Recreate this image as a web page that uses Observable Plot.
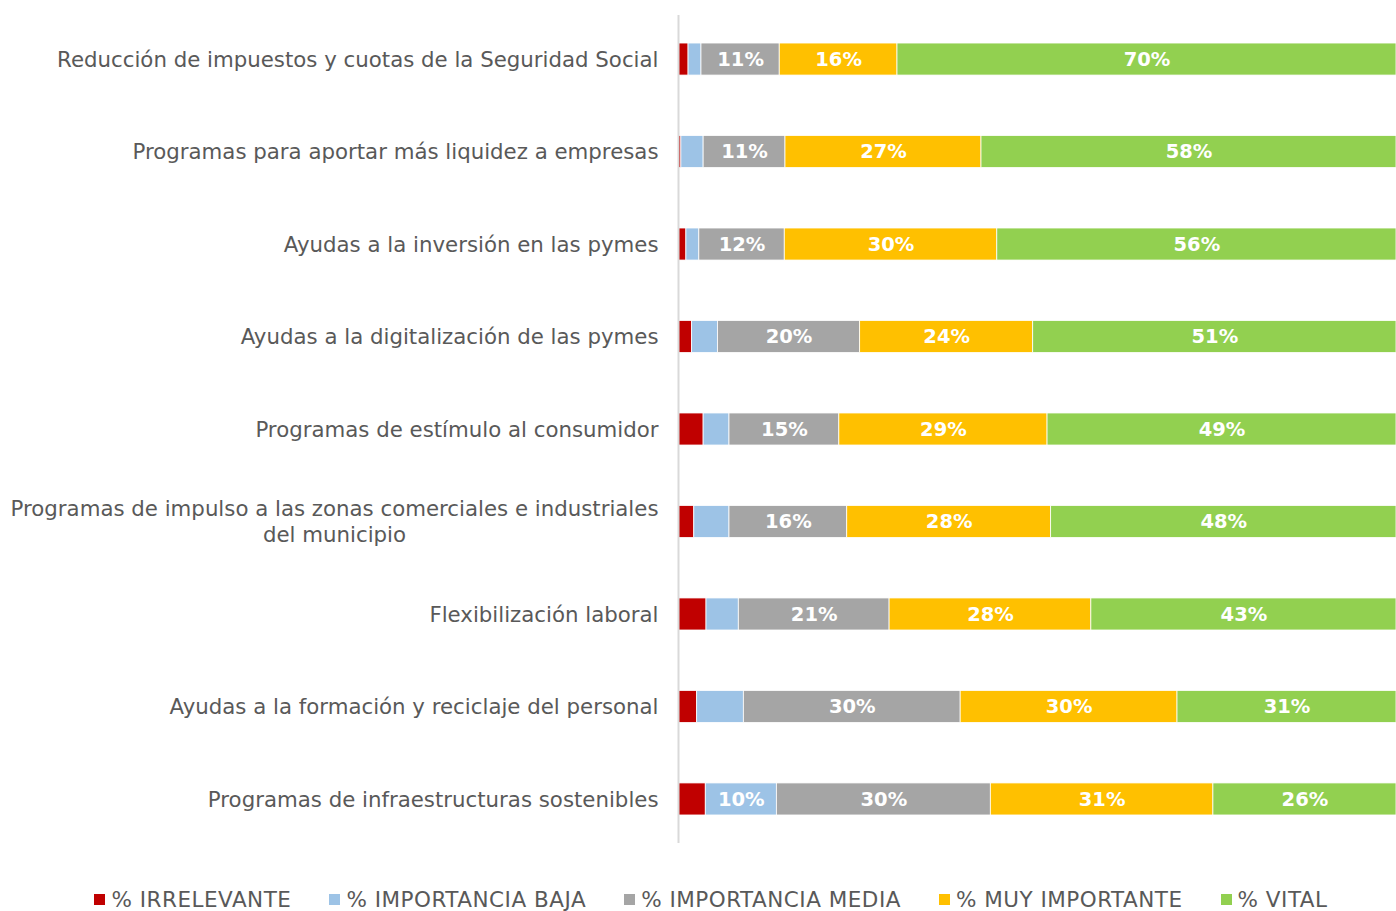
<!DOCTYPE html>
<html>
<head>
<meta charset="utf-8">
<script src="https://cdn.jsdelivr.net/npm/d3@7"></script>
<script src="https://cdn.jsdelivr.net/npm/@observablehq/plot@0.6"></script>
<style>
  body { margin: 0; background: #fff; font-family: "DejaVu Sans", sans-serif; }
  #legend { display: flex; justify-content: center; gap: 38px; padding-top: 27px; color: #595959; font-size: 21.5px; letter-spacing: 0.5px; margin-left: 26px; }
  #legend .item { display: flex; align-items: center; white-space: nowrap; }
  #legend .sw { width: 11px; height: 11px; margin-right: 6px; display: inline-block; }
</style>
</head>
<body>
<div id="chart"></div>
<div id="legend"></div>
<script>
const categories = [
  "Reducción de impuestos y cuotas de la Seguridad Social",
  "Programas para aportar más liquidez a empresas",
  "Ayudas a la inversión en las pymes",
  "Ayudas a la digitalización de las pymes",
  "Programas de estímulo al consumidor",
  "Programas de impulso a las zonas comerciales e industriales\ndel municipio",
  "Flexibilización laboral",
  "Ayudas a la formación y reciclaje del personal",
  "Programas de infraestructuras sostenibles"
];
const seriesNames = ["% IRRELEVANTE", "% IMPORTANCIA BAJA", "% IMPORTANCIA MEDIA", "% MUY IMPORTANTE", "% VITAL"];
const seriesColors = ["#C00000", "#9DC3E6", "#A5A5A5", "#FFC000", "#92D050"];
const irrelevante = [1.4, 0.4, 1.1, 1.9, 3.5, 2.2, 3.9, 2.6, 3.8];
const baja        = [1.8, 3.1, 1.8, 3.6, 3.6, 4.9, 4.5, 6.5, 9.9];
const media       = [10.9, 11.4, 11.9, 19.8, 15.3, 16.4, 21.0, 30.2, 29.8];
const muy         = [16.4, 27.3, 29.6, 24.1, 29.0, 28.4, 28.1, 30.2, 31.0];
const vital       = [69.5, 57.8, 55.6, 50.6, 48.6, 48.1, 42.5, 30.5, 25.5];

const seriesValues = [irrelevante, baja, media, muy, vital];
const data = categories.flatMap((c, i) =>
  seriesNames.map((s, j) => ({cat: c, series: s, value: seriesValues[j][i]}))
);

const chart = Plot.plot({
  width: 1396,
  height: 860,
  marginLeft: 678,
  marginRight: 0,
  marginTop: 15,
  marginBottom: 17,
  style: {fontFamily: "DejaVu Sans, sans-serif", background: "#fff"},
  x: {domain: [0, 100], axis: null},
  y: {domain: categories, paddingInner: 0.6536, paddingOuter: 0.303, round: false, label: null},
  color: {domain: seriesNames, range: seriesColors},
  marks: [
    Plot.barX(data, Plot.stackX({x: "value", y: "cat", fill: "series", z: "series", order: seriesNames, stroke: "#fff", strokeWidth: 0.8})),
    Plot.text(data, Plot.stackX({
      x: "value", y: "cat", z: "series", order: seriesNames,
      text: d => d.value >= 9.5 ? Math.round(d.value) + "%" : null,
      fill: "white", fontSize: 19.5, fontWeight: "bold"
    })),
    Plot.ruleX([0], {stroke: "#D9D9D9", strokeWidth: 2}),
    Plot.axisY({tickSize: 0, tickPadding: 20, fontSize: 21.3, fill: "#595959", lineHeight: 1.22, dy: -1})
  ]
});
document.getElementById("chart").appendChild(chart);

// center multi-line tick labels within their own block (right-aligned block)
d3.select(chart).selectAll("g[aria-label='y-axis tick label'] text").each(function () {
  const tspans = this.querySelectorAll("tspan");
  if (tspans.length > 1) {
    let maxW = 0;
    tspans.forEach(t => { maxW = Math.max(maxW, t.getComputedTextLength()); });
    const x0 = +(this.getAttribute("x") || 0);
    this.setAttribute("text-anchor", "middle");
    tspans.forEach(t => t.setAttribute("x", x0 - maxW / 2));
  }
});

const legend = d3.select("#legend");
seriesNames.forEach((s, i) => {
  const item = legend.append("div").attr("class", "item");
  item.append("span").attr("class", "sw").style("background", seriesColors[i]);
  item.append("span").text(s);
});
</script>
</body>
</html>
